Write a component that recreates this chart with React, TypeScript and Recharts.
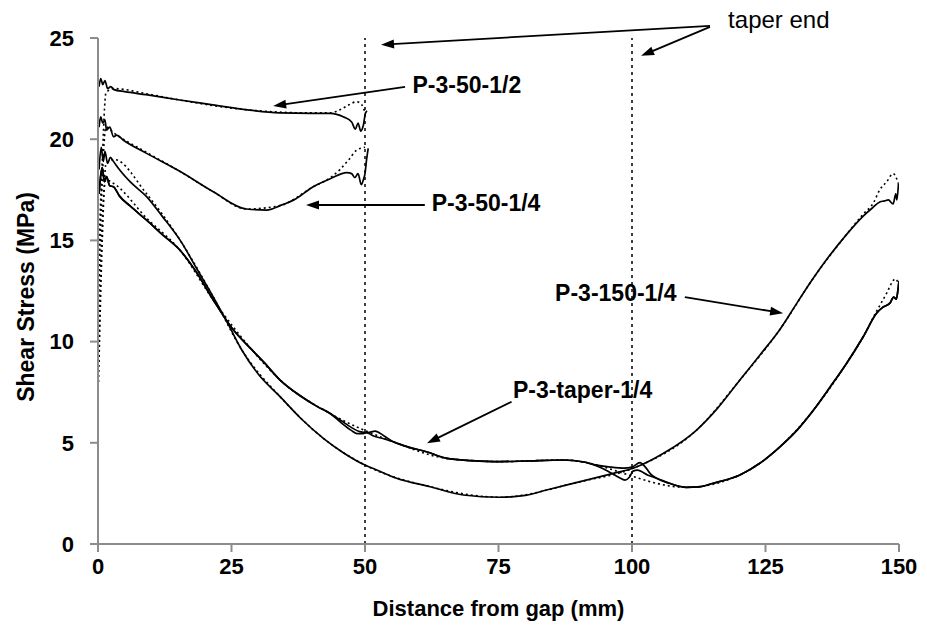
import React from 'react';
import { LineChart, Line, XAxis, YAxis, ReferenceLine, ReferenceDot, Label } from 'recharts';

// ---------- axes ----------
const xTicks = [0, 25, 50, 75, 100, 125, 150];
const yTicks = [0, 5, 10, 15, 20, 25];
const taperEnds = [50, 100];

// ---------- series (distance mm, shear stress MPa) ----------
const p50HalfSolid: number[][] = [
  [0.2, 22.6], [0.5, 23.0], [0.9, 22.7], [1.3, 22.9], [1.8, 22.5], [2.4, 22.6], [3, 22.45],
  [5, 22.35], [9, 22.2], [15, 21.95], [21.5, 21.7], [28, 21.45], [34, 21.3], [40, 21.28],
  [43.5, 21.28], [46, 21.1], [47.5, 20.85], [48.2, 20.5], [48.7, 20.8], [49.2, 20.4],
  [49.7, 20.7], [50.1, 21.3], [50.4, 21.4],
];
const p50HalfDotted: number[][] = [
  [0.1, 14], [0.8, 19], [1.5, 22.3], [3, 22.5], [9, 22.25], [15, 21.95], [28, 21.45],
  [40, 21.3], [43.5, 21.3], [45.3, 21.45], [47, 21.7], [48.4, 21.85], [49.4, 21.7], [50, 21.3],
];

const p50QuarterSolid: number[][] = [
  [0.2, 20.6], [0.5, 21.1], [0.9, 20.8], [1.3, 20.95], [1.6, 20.45], [2.2, 20.6], [2.9, 20.12],
  [3.5, 20.2], [4.7, 19.96], [9.1, 19.3], [15.4, 18.4], [21.6, 17.4], [27.8, 16.55],
  [31.6, 16.5], [34.1, 16.72], [37, 17.05], [40.3, 17.65], [43.5, 18.05], [46.6, 18.35],
  [47.5, 18.3], [48.1, 18.1], [48.7, 18.3], [49.3, 17.75], [49.7, 18.0], [50.0, 18.3],
  [50.3, 19.0], [50.6, 19.55],
];
const p50QuarterDotted: number[][] = [
  [0.1, 12], [0.8, 18], [1.5, 20.6], [3, 20.3], [9.1, 19.35], [15.4, 18.4], [21.6, 17.4],
  [27.8, 16.55], [34.1, 16.72], [40.3, 17.65], [43.5, 18.1], [45.3, 18.5], [47, 19.0],
  [48.4, 19.45], [50, 19.6],
];

const p150Solid: number[][] = [
  [0.2, 18.5], [0.6, 19.6], [1.0, 18.9], [1.3, 19.4], [1.8, 18.8], [2.3, 19.1], [2.9, 18.9],
  [4, 18.5], [6, 17.9], [9.1, 17.16], [12, 16.2], [15.4, 15.0], [18.5, 13.6], [21.6, 12.2],
  [24.5, 10.8], [26.9, 9.6], [30, 8.4], [34.1, 7.28], [38, 6.2], [42.2, 5.22], [46, 4.5],
  [50, 3.9], [52.2, 3.66], [55.9, 3.25], [62.2, 2.83], [68.4, 2.42], [75.3, 2.31], [80, 2.4],
  [84, 2.67], [90.3, 3.08], [96.5, 3.49], [100.2, 3.74], [105.9, 4.48], [112.1, 5.63],
  [116, 6.7], [120.2, 8.1], [124, 9.35], [127.7, 10.6], [131, 11.95], [134, 13.15],
  [137, 14.25], [140.2, 15.3], [143.3, 16.2], [145, 16.6], [146.4, 16.9], [147.3, 16.95],
  [148, 17.0], [148.9, 16.8], [149.4, 17.3], [149.6, 17.0], [149.9, 17.8],
];
const p150Dotted: number[][] = [
  [0.1, 8], [0.8, 15], [1.5, 18.8], [3, 19.0], [9.1, 17.3], [15.4, 15.0], [21.6, 12.2],
  [26.9, 9.6], [34.1, 7.28], [42.2, 5.22], [50, 3.9], [62.2, 2.83], [75.3, 2.31],
  [90.3, 3.08], [100.2, 3.74], [112.1, 5.63], [120.2, 8.1], [127.7, 10.6], [134, 13.15],
  [140.2, 15.3], [143.3, 16.3], [145.2, 16.85], [146.4, 17.5], [147.7, 17.9], [148.9, 18.3],
  [149.9, 17.8],
];

const taperSolidA: number[][] = [
  [0.2, 17.3], [0.5, 18.2], [0.8, 18.6], [1.2, 17.9], [1.6, 18.15], [2.2, 17.7], [2.9, 17.65],
  [4, 17.2], [6, 16.7], [9.1, 16.0], [12, 15.3], [15.4, 14.5], [18.5, 13.4], [21.6, 12.05],
  [25, 10.7], [28.8, 9.6], [31, 9.0], [34.1, 8.1], [38, 7.3], [41, 6.8], [43.4, 6.46],
  [45.5, 6.0], [47.5, 5.6], [48.5, 5.45], [49.5, 5.45], [50.3, 5.5], [51.5, 5.35], [53.5, 5.2],
  [55.3, 5.05], [58, 4.8], [61.5, 4.56], [65.3, 4.23], [70, 4.12], [75.3, 4.07], [80, 4.1],
  [87, 4.15], [91, 4.05], [93.4, 3.85], [95.5, 3.6], [97.5, 3.3], [98.7, 3.16], [99.5, 3.3],
  [100.2, 3.6], [101, 3.65], [103, 3.4], [104.6, 3.25], [107, 3.0], [110.2, 2.8], [112.5, 2.82],
  [115.2, 3.0], [120.2, 3.41], [124, 4.0], [127.7, 4.8], [131, 5.65], [134, 6.62], [137, 7.72],
  [140.2, 8.93], [143.3, 10.24], [145.8, 11.4], [147, 11.7], [148.3, 11.9], [149, 12.2],
  [149.5, 12.1], [149.8, 12.55], [150, 13.0],
];
const taperSolidB: number[][] = [
  [0.2, 17.3], [0.5, 18.2], [0.8, 18.6], [1.2, 17.9], [1.6, 18.15], [2.2, 17.7], [2.9, 17.65],
  [4, 17.2], [6, 16.7], [9.1, 16.0], [12, 15.3], [15.4, 14.5], [18.5, 13.4], [21.6, 12.05],
  [25, 10.7], [28.8, 9.6], [31, 9.0], [34.1, 8.1], [38, 7.3], [41, 6.8], [43.4, 6.46],
  [45.5, 6.1], [47.5, 5.75], [49, 5.55], [50.5, 5.5], [51.9, 5.58], [53.5, 5.35], [55.3, 5.05],
  [58, 4.8], [61.5, 4.56], [65.3, 4.23], [70, 4.12], [75.3, 4.07], [80, 4.1], [87, 4.15],
  [91, 4.05], [93.4, 3.9], [96, 3.8], [98.5, 3.75], [100, 3.8], [101.5, 4.02], [102.5, 3.8],
  [103.5, 3.45], [104.6, 3.25], [107, 3.0], [110.2, 2.8], [112.5, 2.82], [115.2, 3.0],
  [120.2, 3.41], [124, 4.0], [127.7, 4.8], [131, 5.65], [134, 6.62], [137, 7.72], [140.2, 8.93],
  [143.3, 10.24], [145.8, 11.4], [147, 11.7], [148.3, 11.9], [149, 12.2], [149.5, 12.1],
  [149.8, 12.55], [150, 13.0],
];
const taperDotted: number[][] = [
  [0.1, 9], [0.8, 16], [1.5, 18.0], [3, 17.8], [9.1, 16.1], [15.4, 14.5], [21.6, 12.05],
  [28.8, 9.6], [34.1, 8.1], [43.4, 6.46], [55.3, 5.05], [65.3, 4.23], [75.3, 4.07], [87, 4.15],
  [110.2, 2.8], [120.2, 3.41], [127.7, 4.8], [134, 6.62], [140.2, 8.93], [143.3, 10.24],
  [145.8, 11.5], [146.8, 11.97], [147.7, 12.4], [148.6, 12.88], [149.3, 13.1], [150, 12.8],
];

// ---------- annotations (data coordinates) ----------
const annotationTexts = ['taper end', 'P-3-50-1/2', 'P-3-50-1/4', 'P-3-150-1/4', 'P-3-taper-1/4'];
const annotationX = [118.0, 58.9, 62.5, 85.6, 77.7];
const annotationY = [25.9, 22.68, 16.85, 12.4, 7.6];
const annotationBold = [false, true, true, true, true];

const arrowFrom: number[][] = [[114.6, 25.6], [114.6, 25.55], [57.5, 22.58], [61.2, 16.75], [109.9, 12.2], [77.45, 7.03]];
const arrowTo: number[][] = [[53.0, 24.67], [101.7, 24.12], [32.8, 21.64], [38.95, 16.75], [128.3, 11.4], [61.6, 4.98]];

const toPts = (arr: number[][]) => arr.map(([x, y]) => ({ x, y }));

const seriesList = [
  { key: 'p50h', data: p50HalfSolid, dashed: false },
  { key: 'p50hd', data: p50HalfDotted, dashed: true },
  { key: 'p50q', data: p50QuarterSolid, dashed: false },
  { key: 'p50qd', data: p50QuarterDotted, dashed: true },
  { key: 'p150', data: p150Solid, dashed: false },
  { key: 'p150d', data: p150Dotted, dashed: true },
  { key: 'tapA', data: taperSolidA, dashed: false },
  { key: 'tapB', data: taperSolidB, dashed: false },
  { key: 'tapd', data: taperDotted, dashed: true },
];

const FONT = '"Liberation Sans", Arial, sans-serif';

const ArrowShape = (props: any) => {
  const { x1, y1, x2, y2 } = props;
  const dx = x2 - x1;
  const dy = y2 - y1;
  const len = Math.sqrt(dx * dx + dy * dy) || 1;
  const ux = dx / len;
  const uy = dy / len;
  const hl = 13;
  const hw = 4.5;
  const bx = x2 - ux * hl;
  const by = y2 - uy * hl;
  const pts = `${x2},${y2} ${bx - uy * hw},${by + ux * hw} ${bx + uy * hw},${by - ux * hw}`;
  return (
    <g>
      <line x1={x1} y1={y1} x2={bx + ux * 2} y2={by + uy * 2} stroke="#000" strokeWidth={1.8} />
      <polygon points={pts} fill="#000" />
    </g>
  );
};

export default function App() {
  return (
    <div style={{ position: 'absolute', left: 0, top: 0, background: '#fff' }}>
      <LineChart
        width={927}
        height={637}
        margin={{ top: 38, right: 28, bottom: 53, left: 38 }}
      >
        <XAxis
          type="number"
          dataKey="x"
          domain={[0, 150]}
          ticks={xTicks}
          allowDataOverflow
          height={40}
          tickSize={8}
          tickMargin={6}
          stroke="#8c8c8c"
          strokeWidth={2}
          tick={{ fill: '#000', fontSize: 22, fontWeight: 'bold', fontFamily: FONT }}
        >
          <Label
            content={(p: any) => {
              const vb = p.viewBox;
              return (
                <text
                  x={vb.x + vb.width / 2}
                  y={vb.y + 72}
                  textAnchor="middle"
                  fontSize={22}
                  fontWeight="bold"
                  fontFamily={FONT}
                  fill="#000"
                >
                  Distance from gap (mm)
                </text>
              );
            }}
          />
        </XAxis>
        <YAxis
          type="number"
          dataKey="y"
          domain={[0, 25]}
          ticks={yTicks}
          allowDataOverflow
          width={60}
          tickSize={8}
          tickMargin={16}
          stroke="#8c8c8c"
          strokeWidth={2}
          tick={{ fill: '#000', fontSize: 22, fontWeight: 'bold', fontFamily: FONT }}
        >
          <Label
            content={(p: any) => {
              const vb = p.viewBox;
              const cx = 26;
              const cy = vb.y + vb.height / 2 + 6;
              return (
                <text
                  x={cx}
                  y={cy}
                  transform={`rotate(-90 ${cx} ${cy})`}
                  textAnchor="middle"
                  dominantBaseline="central"
                  fontSize={23}
                  fontWeight="bold"
                  fontFamily={FONT}
                  fill="#000"
                >
                  Shear Stress (MPa)
                </text>
              );
            }}
          />
        </YAxis>

        {taperEnds.map((v) => (
          <ReferenceLine
            key={`te${v}`}
            x={v}
            stroke="#000"
            strokeWidth={1.5}
            strokeDasharray="3 4"
          />
        ))}

        {seriesList.map((s) => (
          <Line
            key={s.key}
            data={toPts(s.data)}
            dataKey="y"
            type="monotone"
            stroke="#000"
            strokeWidth={s.dashed ? 1.6 : 1.7}
            strokeDasharray={s.dashed ? '2 3' : undefined}
            dot={false}
            activeDot={false}
            isAnimationActive={false}
          />
        ))}

        {arrowFrom.map((f, i) => (
          <ReferenceLine
            key={`ar${i}`}
            segment={[{ x: f[0], y: f[1] }, { x: arrowTo[i][0], y: arrowTo[i][1] }]}
            ifOverflow="visible"
            shape={ArrowShape}
          />
        ))}

        {annotationTexts.map((t, i) => (
          <ReferenceDot
            key={`lb${i}`}
            x={annotationX[i]}
            y={annotationY[i]}
            r={0}
            ifOverflow="visible"
            shape={(p: any) => (
              <text
                x={p.cx}
                y={p.cy}
                dominantBaseline="central"
                textAnchor="start"
                fontSize={annotationBold[i] ? 23 : 24}
                fontWeight={annotationBold[i] ? 'bold' : 'normal'}
                fontFamily={FONT}
                fill="#000"
              >
                {t}
              </text>
            )}
          />
        ))}
      </LineChart>
    </div>
  );
}
